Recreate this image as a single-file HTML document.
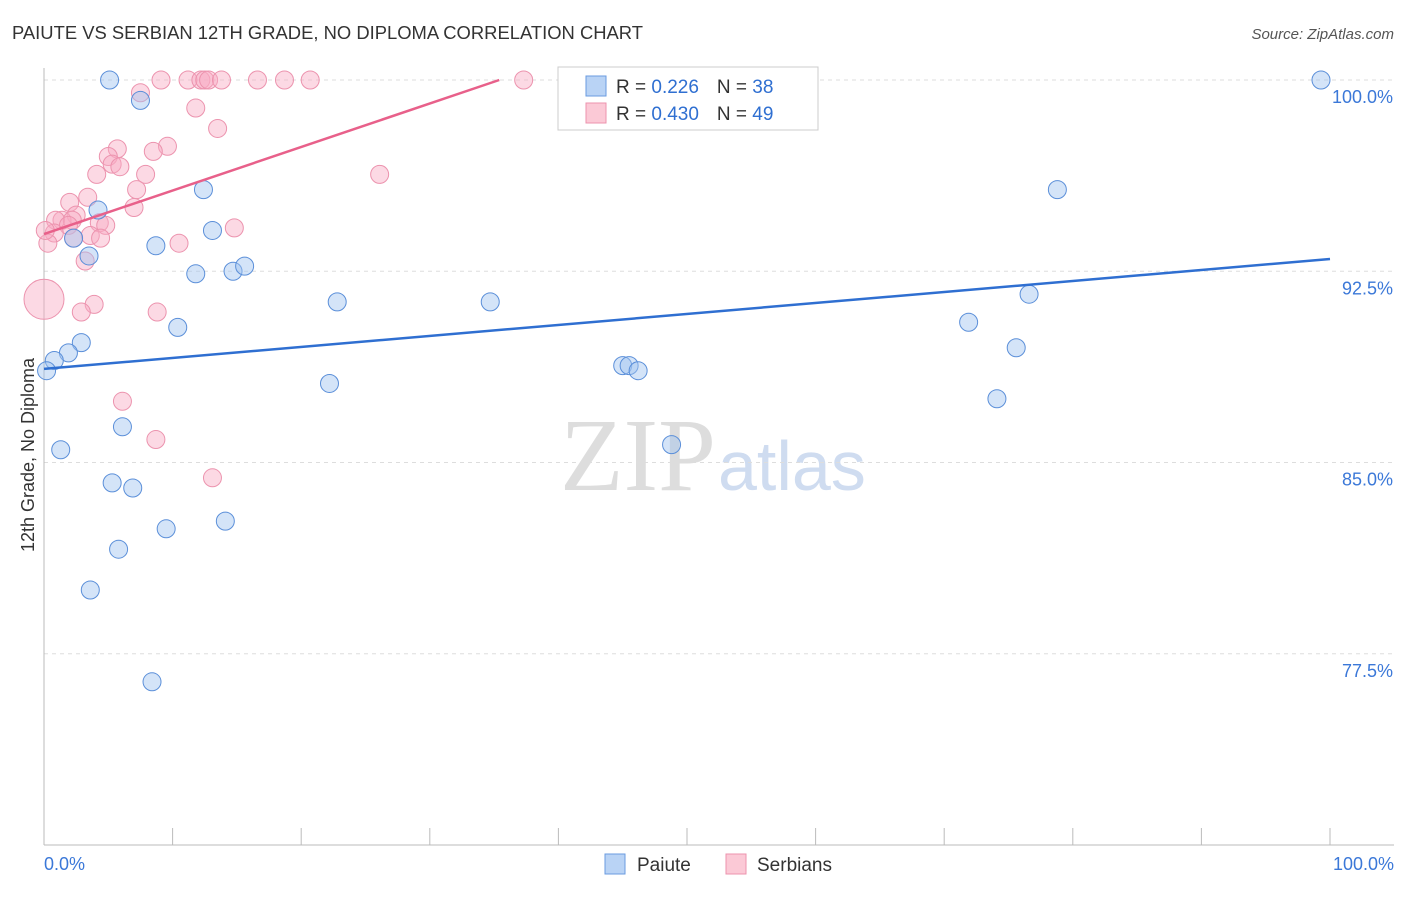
<!DOCTYPE html>
<html><head><meta charset="utf-8"><style>
body{margin:0;background:#fff;font-family:"Liberation Sans",sans-serif;}
</style></head><body>
<svg width="1406" height="892" xmlns="http://www.w3.org/2000/svg" font-family="Liberation Sans, sans-serif">
<text x="12" y="39" font-size="18" fill="#333" textLength="631" lengthAdjust="spacingAndGlyphs">PAIUTE VS SERBIAN 12TH GRADE, NO DIPLOMA CORRELATION CHART</text>
<text x="1394" y="39" font-size="15" fill="#555" text-anchor="end" font-style="italic">Source: ZipAtlas.com</text>
<text x="716" y="490" font-size="104" fill="#ddd" text-anchor="end" font-family="Liberation Serif, serif">ZIP</text>
<text x="718" y="490" font-size="70" fill="#cfdcf0">atlas</text>
<g id="grid"></g>
<g id="axes"></g>
<g id="marks"></g>
<text transform="translate(34,455) rotate(-90)" font-size="18" fill="#333" text-anchor="middle">12th Grade, No Diploma</text>
<g>
<rect x="558" y="67" width="260" height="63" fill="#fff" stroke="#ccc"/>
<rect x="586" y="76" width="20" height="20" fill="#b9d3f5" stroke="#6a9be0"/>
<rect x="586" y="103" width="20" height="20" fill="#fbc9d6" stroke="#ec93ae"/>
<text x="616" y="93" font-size="19" fill="#333">R = <tspan fill="#2f6fd1"> 0.226</tspan><tspan dx="18">N = </tspan><tspan fill="#2f6fd1">38</tspan></text>
<text x="616" y="120" font-size="19" fill="#333">R = <tspan fill="#2f6fd1">0.430</tspan><tspan dx="18">N = </tspan><tspan fill="#2f6fd1">49</tspan></text>
</g>
<g>
<rect x="605" y="854" width="20" height="20" fill="#b9d3f5" stroke="#6a9be0"/>
<text x="637" y="871" font-size="19" fill="#333">Paiute</text>
<rect x="726" y="854" width="20" height="20" fill="#fbc9d6" stroke="#ec93ae"/>
<text x="757" y="871" font-size="19" fill="#333">Serbians</text>
</g>
</svg>
<script>
const yTicks=[100,92.5,85,77.5];
const blueX=[5.1,7.5,12.4,4.2,13.1,8.7,2.3,3.5,11.8,14.7,15.6,22.8,34.7,10.4,2.9,1.9,0.8,0.2,22.2,45.0,45.5,46.2,48.8,6.1,1.3,5.3,6.9,9.5,14.1,5.8,3.6,8.4,99.3,78.8,71.9,76.6,75.6,74.1];
const blueY=[100,99.2,95.7,94.9,94.1,93.5,93.8,93.1,92.4,92.5,92.7,91.3,91.3,90.3,89.7,89.3,89.0,88.6,88.1,88.8,88.8,88.6,85.7,86.4,85.5,84.2,84.0,82.4,82.7,81.6,80.0,76.4,100,95.7,90.5,91.6,89.5,87.5];
const pinkX=[9.1,11.2,12.2,12.5,12.8,13.8,16.6,18.7,20.7,37.3,7.5,11.8,13.5,9.6,8.5,5.7,5.0,5.3,5.9,4.1,7.9,26.1,7.2,3.4,2.0,7.0,2.5,1.4,0.9,2.2,1.9,4.3,4.8,0.8,3.6,4.4,2.3,0.3,10.5,14.8,3.2,0,3.9,2.9,8.8,6.1,8.7,13.1,0.1];
const pinkY=[100,100,100,100,100,100,100,100,100,100,99.5,98.9,98.1,97.4,97.2,97.3,97.0,96.7,96.6,96.3,96.3,96.3,95.7,95.4,95.2,95.0,94.7,94.5,94.5,94.5,94.3,94.4,94.3,94.0,93.9,93.8,93.8,93.6,93.6,94.2,92.9,91.4,91.2,90.9,90.9,87.4,85.9,84.4,94.1];
const pinkR=[9,9,9,9,9,9,9,9,9,9,9,9,9,9,9,9,9,9,9,9,9,9,9,9,9,9,9,9,9,9,9,9,9,9,9,9,9,9,9,9,9,20,9,9,9,9,9,9,9];
const blueTrend=[88.67,92.98];
const pinkTrend=[93.96,100];
const NS="http://www.w3.org/2000/svg";
const X=v=>44+v*12.86, Y=v=>80+(100-v)*25.5;
function mk(t,a,p){const e=document.createElementNS(NS,t);for(const k in a)e.setAttribute(k,a[k]);p.appendChild(e);return e;}
const grid=document.getElementById('grid'),axes=document.getElementById('axes'),marks=document.getElementById('marks');
yTicks.forEach(t=>{
 const l=mk('line',{x1:44,x2:1394,y1:Y(t),y2:Y(t),stroke:'#ddd','stroke-dasharray':'4,4'},grid);
 
 
 const tx=mk('text',{x:1393,y:Y(t)+23,'font-size':18,fill:'#3b78d8','text-anchor':'end'},axes);
 tx.textContent=t.toFixed(1)+'%';
 
 
});
mk('line',{x1:44,x2:44,y1:68,y2:845,stroke:'#bbb'},axes);
mk('line',{x1:44,x2:1394,y1:845,y2:845,stroke:'#bbb'},axes);
for(let i=0;i<=10;i++){mk('line',{x1:X(i*10),x2:X(i*10),y1:828,y2:845,stroke:'#bbb'},axes);}
[['0.0%',44,'start'],['100.0%',1394,'end']].forEach(([s,x,a])=>{const t=mk('text',{x:x,y:870,'font-size':18,fill:'#3b78d8','text-anchor':a},axes);t.textContent=s;
 
 });
pinkX.forEach((v,i)=>{const c=mk('circle',{cx:X(v),cy:Y(pinkY[i]),r:pinkR[i],fill:'rgba(248,170,195,0.45)',stroke:'#ec93ae','stroke-width':1},marks);
 
 });
blueX.forEach((v,i)=>{const c=mk('circle',{cx:X(v),cy:Y(blueY[i]),r:9,fill:'rgba(160,195,240,0.45)',stroke:'#5b8fd9','stroke-width':1},marks);
 
 });
const bl=mk('line',{x1:X(0),y1:Y(blueTrend[0]),x2:X(100),y2:Y(blueTrend[1]),stroke:'#2f6fd1','stroke-width':2.5},marks);


const slope=(pinkTrend[1]-pinkTrend[0])/35.4;
const xe=Math.min(100,(100-pinkTrend[0])/slope);
const pl=mk('line',{x1:X(0),y1:Y(pinkTrend[0]),x2:X(xe),y2:Y(pinkTrend[0]+slope*xe),stroke:'#e8608a','stroke-width':2.5},marks);


</script>
</body></html>
